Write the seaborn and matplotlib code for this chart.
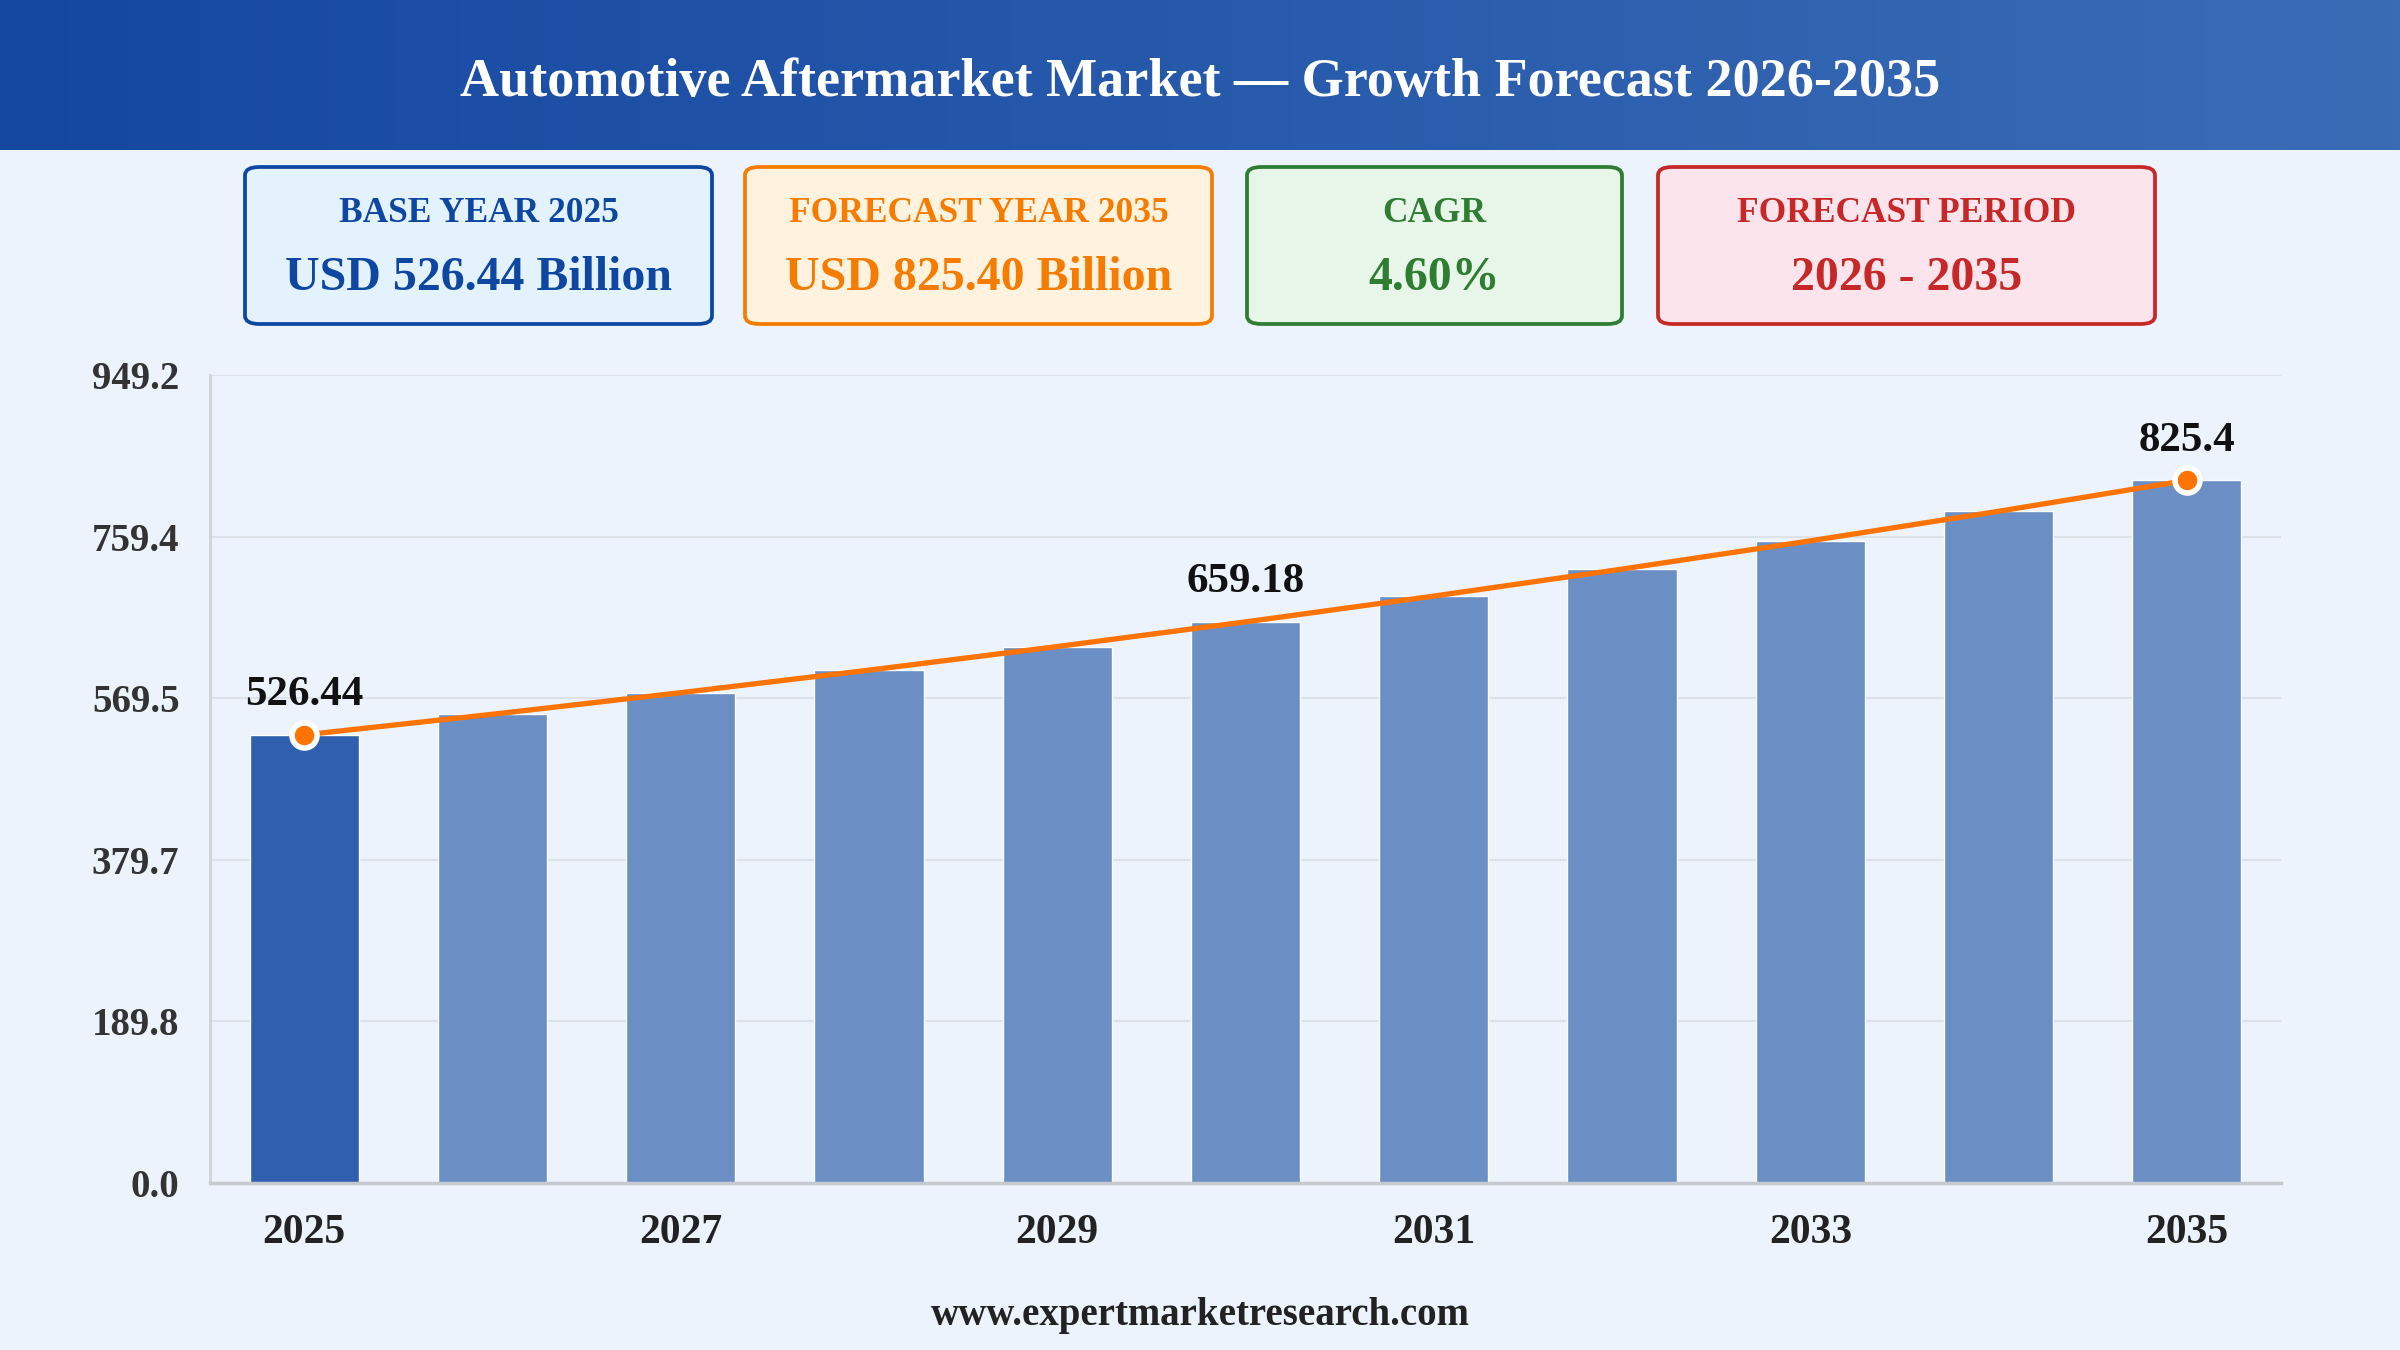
import numpy as np
import pandas as pd
import matplotlib
matplotlib.use("Agg")
import matplotlib.pyplot as plt
from matplotlib.patches import FancyBboxPatch
from matplotlib.colors import LinearSegmentedColormap
import seaborn as sns

# data
years = [2025, 2026, 2027, 2028, 2029, 2030, 2031, 2032, 2033, 2034, 2035]
market_size = [526.44, 550.66, 576.0, 602.5, 630.2, 659.18, 689.5, 721.2, 754.4, 789.1, 825.4]
label_years = [2025, 2030, 2035]
y_ticks = [0.0, 189.8, 379.7, 569.5, 759.4, 949.2]
x_tick_years = [2025, 2027, 2029, 2031, 2033, 2035]

title = "Automotive Aftermarket Market \u2014 Growth Forecast 2026-2035"
box_labels = ["BASE YEAR 2025", "FORECAST YEAR 2035", "CAGR", "FORECAST PERIOD"]
box_values = ["USD 526.44 Billion", "USD 825.40 Billion", "4.60%", "2026 - 2035"]
footer = "www.expertmarketresearch.com"

bg = "#ecf3fc"
sns.set_theme(style="white")
plt.rcParams["font.family"] = ["Liberation Serif", "DejaVu Serif"]
plt.rcParams["font.weight"] = "bold"

W, H = 2400, 1350
fig = plt.figure(figsize=(24, 13.5), dpi=100, facecolor=bg)

# header band with gradient
hax = fig.add_axes([0, 1 - 150 / H, 1, 150 / H])
grad = np.linspace(0, 1, 512).reshape(1, -1)
cmap = LinearSegmentedColormap.from_list("hdr", ["#1447a0", "#3a6cb6"])
hax.imshow(grad, aspect="auto", cmap=cmap, extent=[0, 1, 0, 1])
hax.set_axis_off()
fig.text(0.5, 1 - 83 / H, title, ha="center", va="center", color="white",
         fontsize=39, fontweight="bold")

# summary boxes
boxes = [(245, 712), (745, 1212), (1247, 1622), (1658, 2155)]
edge_cols = ["#0d47a1", "#f57c00", "#2e7d32", "#c62828"]
fill_cols = ["#e3f2fd", "#fff3e0", "#e8f5e9", "#fce4ec"]
text_cols = ["#0d47a1", "#f57c00", "#2e7d32", "#c62828"]
y0, y1 = 167, 324
for (x0, x1), ec, fc, tc, lab, val in zip(boxes, edge_cols, fill_cols, text_cols, box_labels, box_values):
    p = FancyBboxPatch((x0 / W, 1 - y1 / H), (x1 - x0) / W, (y1 - y0) / H,
                       boxstyle="round,pad=0,rounding_size=0.006",
                       transform=fig.transFigure, facecolor=fc, edgecolor=ec, linewidth=2.7)
    fig.patches.append(p)
    xc = (x0 + x1) / 2 / W
    fig.text(xc, 1 - 213 / H, lab, ha="center", va="center", color=tc, fontsize=25.5, fontweight="bold")
    fig.text(xc, 1 - 278 / H, val, ha="center", va="center", color=tc, fontsize=34.5, fontweight="bold")

# main chart
ax = fig.add_axes([210 / W, 1 - 1183 / H, (2281 - 210) / W, (1183 - 375) / H])
ax.set_facecolor(bg)
df = pd.DataFrame({"year": [str(y) for y in years], "value": market_size})
bar_cols = ["#2f5fae"] + ["#6b8fc5"] * (len(years) - 1)
sns.barplot(data=df, x="year", y="value", hue="year", palette=bar_cols, legend=False,
            width=0.58, saturation=1, ax=ax, zorder=2)
xpos = np.arange(len(years))
sns.lineplot(x=xpos, y=market_size, color="#ff7300", linewidth=3.8, ax=ax, zorder=3)
for yr in label_years:
    i = years.index(yr)
    if yr != 2030:
        ax.plot(xpos[i], market_size[i], "o", color="#ff7300", markersize=18,
                markeredgecolor="white", markeredgewidth=4, zorder=4)
    ax.annotate(f"{market_size[i]:g}", (xpos[i], market_size[i]), xytext=(0, 15),
                textcoords="offset points", ha="center", va="bottom",
                fontsize=31, fontweight="bold", color="#111111", zorder=5)

ax.set_xlim(-0.5, len(years) - 0.5)
ax.set_ylim(0, 949.2)
ax.set_yticks(y_ticks)
ax.set_yticklabels([f"{v:.1f}" for v in y_ticks], fontsize=28, fontweight="bold", color="#333333")
ax.set_xticks([years.index(y) for y in x_tick_years])
ax.set_xticklabels([str(y) for y in x_tick_years], fontsize=30, fontweight="bold", color="#222222")
ax.tick_params(axis="y", length=0, pad=22)
ax.tick_params(axis="x", length=0, pad=22)
ax.set_xlabel("")
ax.set_ylabel("")
ax.grid(axis="y", color="#dde2e8", linewidth=1.5, zorder=0)
ax.set_axisbelow(True)
for s in ["top", "right"]:
    ax.spines[s].set_visible(False)
ax.spines["left"].set_color("#cfd3d8")
ax.spines["left"].set_linewidth(2)
ax.spines["bottom"].set_color("#c6cad0")
ax.spines["bottom"].set_linewidth(2.5)

fig.text(0.5, 1 - 1315 / H, footer, ha="center", va="center", fontsize=28,
         fontweight="bold", color="#222222")

fig.savefig("out.png", dpi=100, facecolor=bg)
